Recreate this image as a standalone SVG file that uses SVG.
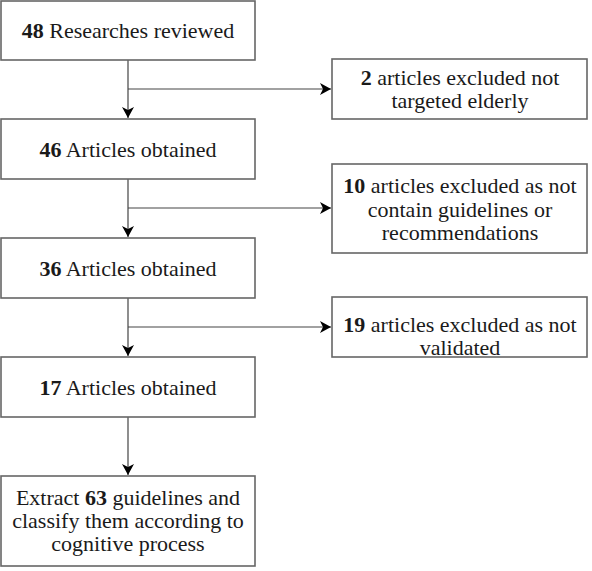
<svg xmlns="http://www.w3.org/2000/svg" width="592" height="571" viewBox="0 0 592 571">
<style>
.box{fill:#fff;stroke:#666;stroke-width:1.6}
text{font-family:'Liberation Serif','Times New Roman',serif;font-size:22px;fill:#1a1a1a;text-anchor:middle}
.b{font-weight:bold}
.c{stroke:#444;stroke-width:1.2;fill:none}
</style>
<defs>
<marker id="ah" markerWidth="12" markerHeight="12" refX="11" refY="6" orient="auto" markerUnits="userSpaceOnUse">
<path d="M0,0 L11,6 L0,12 L3,6 Z" fill="#000"/>
</marker>
</defs>
<g id="connectors">
<path class="c" d="M128,60 V118" marker-end="url(#ah)"/>
<path class="c" d="M128,89 H331" marker-end="url(#ah)"/>
<path class="c" d="M128,179 V237" marker-end="url(#ah)"/>
<path class="c" d="M128,208 H331" marker-end="url(#ah)"/>
<path class="c" d="M128,298 V356" marker-end="url(#ah)"/>
<path class="c" d="M128,327 H331" marker-end="url(#ah)"/>
<path class="c" d="M128,417 V475" marker-end="url(#ah)"/>
</g>
<g id="n1">
<rect class="box" x="1" y="1" width="254" height="59"/>
<text x="128" y="38"><tspan class="b">48</tspan> Researches reviewed</text>
</g>
<g id="n2">
<rect class="box" x="1" y="119" width="254" height="60"/>
<text x="128" y="157"><tspan class="b">46</tspan> Articles obtained</text>
</g>
<g id="n3">
<rect class="box" x="1" y="238" width="254" height="60"/>
<text x="128" y="276"><tspan class="b">36</tspan> Articles obtained</text>
</g>
<g id="n4">
<rect class="box" x="1" y="357" width="254" height="60"/>
<text x="128" y="395"><tspan class="b">17</tspan> Articles obtained</text>
</g>
<g id="n5">
<rect class="box" x="1" y="476" width="254" height="90"/>
<text x="128" y="505">Extract <tspan class="b">63</tspan> guidelines and</text>
<text x="128" y="528">classify them according to</text>
<text x="128" y="551">cognitive process</text>
</g>
<g id="e1">
<rect class="box" x="332" y="59" width="255" height="60"/>
<text x="460" y="85"><tspan class="b">2</tspan> articles excluded not</text>
<text x="460" y="108">targeted elderly</text>
</g>
<g id="e2">
<rect class="box" x="332" y="164" width="255" height="89"/>
<text x="460" y="193"><tspan class="b">10</tspan> articles excluded as not</text>
<text x="460" y="217">contain guidelines or</text>
<text x="460" y="240">recommendations</text>
</g>
<g id="e3">
<rect class="box" x="332" y="297" width="255" height="60"/>
<text x="460" y="332"><tspan class="b">19</tspan> articles excluded as not</text>
<text x="460" y="355">validated</text>
</g>
</svg>
